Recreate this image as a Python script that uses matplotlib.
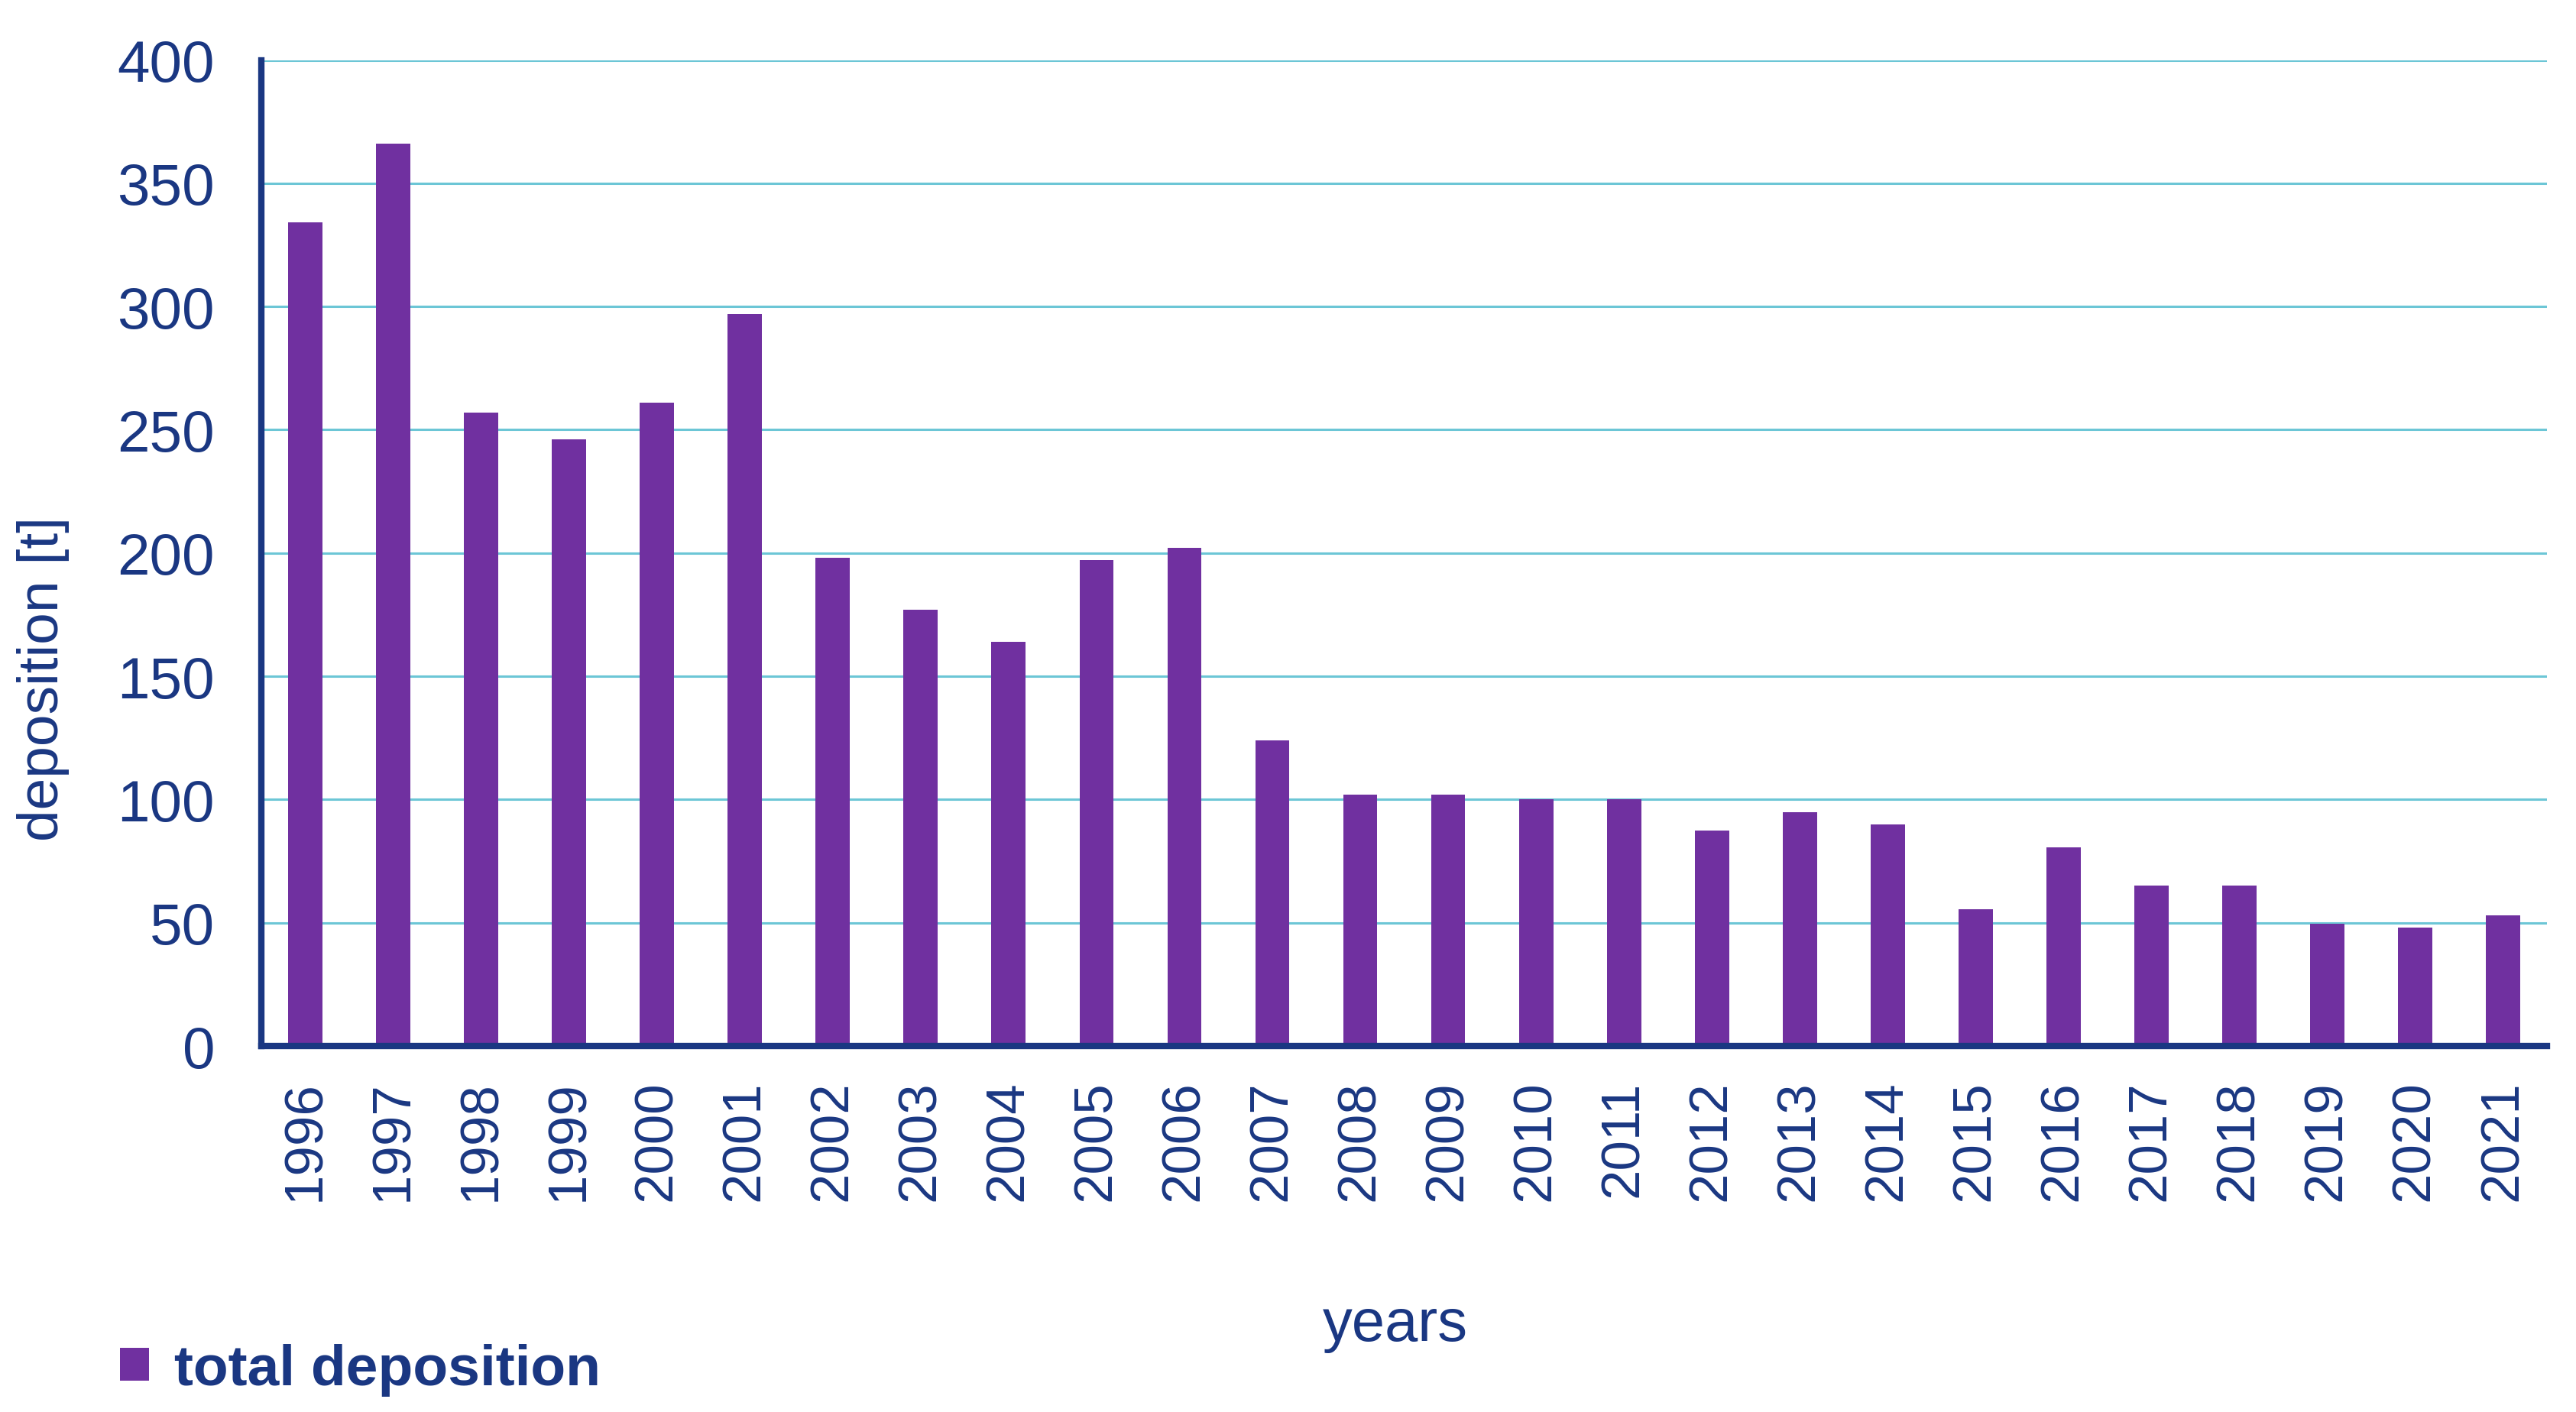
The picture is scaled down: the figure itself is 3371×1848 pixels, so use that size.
import matplotlib
matplotlib.use("Agg")
import matplotlib.pyplot as plt
from matplotlib.patches import Patch

years = [str(y) for y in range(1996, 2022)]
deposition = [334, 366, 257, 246, 261, 297, 198, 177, 164, 197, 202, 124,
              102, 102, 100, 100, 87.5, 95, 90, 55.5, 80.5, 65, 65, 49.5, 48, 53]
yticks = [0, 50, 100, 150, 200, 250, 300, 350, 400]

BAR = '#7030A0'
NAVY = '#1A3782'
GRID = '#6CC6D6'

plt.rcParams['font.family'] = ['Liberation Sans', 'DejaVu Sans']

DPI = 200
fig = plt.figure(figsize=(3371 / DPI, 1849 / DPI), dpi=DPI)
ax = fig.add_axes([0.1015, 0.259, 0.8872, 0.698])

x = list(range(len(years)))
ax.bar(x, deposition, width=0.39, color=BAR, zorder=3)

ax.set_xlim(-0.5, len(years) - 0.5)
ax.set_ylim(0, 400)
ax.set_yticks(yticks)
ax.set_xticks(x)
ax.set_xticklabels(years, rotation=90)

for v in yticks[1:]:
    ax.axhline(v, color=GRID, lw=1.1, zorder=1)

for s in ['top', 'right']:
    ax.spines[s].set_visible(False)
for s in ['left', 'bottom']:
    ax.spines[s].set_color(NAVY)
    ax.spines[s].set_linewidth(3.0)
    ax.spines[s].set_zorder(4)

ax.tick_params(axis='both', length=0, colors=NAVY)
ax.tick_params(axis='y', pad=22, labelsize=27.5)
ax.tick_params(axis='x', pad=16, labelsize=25.5)

ax.set_ylabel('deposition [t]', fontsize=27, color=NAVY)
ax.yaxis.set_label_coords(-0.084, 0.373)
ax.set_xlabel('years', fontsize=28, color=NAVY, va='center')
ax.xaxis.set_label_coords(0.496, -0.282)

fig.legend([Patch(facecolor=BAR, edgecolor='none')], ['total deposition'],
           loc='center left', bbox_to_anchor=(0.0466, 0.030),
           frameon=False, borderpad=0, borderaxespad=0,
           handlelength=0.5, handleheight=0.5, handletextpad=0.45,
           prop={'size': 27, 'weight': 'bold'}, labelcolor=NAVY)

fig.savefig('out.png', dpi=DPI, facecolor='white')
